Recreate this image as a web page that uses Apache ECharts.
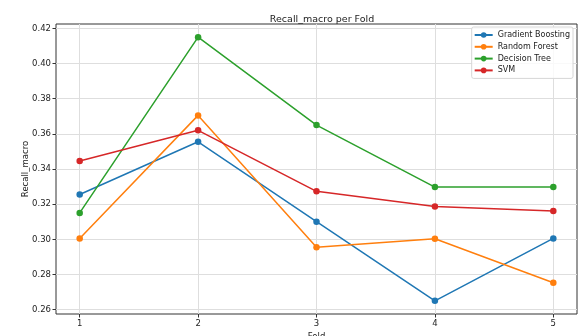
<!DOCTYPE html>
<html>
<head>
<meta charset="utf-8">
<script src="https://cdn.jsdelivr.net/npm/echarts@6/dist/echarts.min.js"></script>
<style>
  html, body { margin: 0; padding: 0; background: #fff; }
  #chart { width: 580px; height: 336px; }
</style>
</head>
<body>
<div id="chart"></div>
<script>
// Folds on the x axis
const folds = [1, 2, 3, 4, 5];
const yTicks = [0.26, 0.28, 0.30, 0.32, 0.34, 0.36, 0.38, 0.40, 0.42];

// Recall_macro per model
const gradientBoosting = [0.3255, 0.3555, 0.310, 0.265, 0.3005];
const randomForest = [0.3005, 0.3705, 0.2955, 0.3003, 0.2753];
const decisionTree = [0.315, 0.415, 0.365, 0.3297, 0.3297];
const svm = [0.3445, 0.362, 0.3273, 0.3186, 0.3161];

const models = [
  { name: 'Gradient Boosting', values: gradientBoosting, color: '#1f77b4' },
  { name: 'Random Forest', values: randomForest, color: '#ff7f0e' },
  { name: 'Decision Tree', values: decisionTree, color: '#2ca02c' },
  { name: 'SVM', values: svm, color: '#d62728' }
];

const chart = echarts.init(document.getElementById('chart'), null, { renderer: 'canvas' });
const font = 'DejaVu Sans';

const option = {
  animation: false,
  backgroundColor: '#fff',
  title: {
    text: 'Recall_macro per Fold',
    left: 317,
    top: 10,
    textAlign: 'center',
    textStyle: { fontFamily: font, fontSize: 9.5, fontWeight: 'normal', color: '#222' }
  },
  legend: {
    orient: 'vertical',
    right: 7,
    top: 27,
    padding: [4, 3, 4, 2],
    itemWidth: 18,
    itemHeight: 7,
    itemGap: 3.8,
    backgroundColor: 'rgba(255,255,255,0.8)',
    borderColor: '#d6d6d6',
    borderWidth: 1,
    borderRadius: 2,
    textStyle: { fontFamily: font, fontSize: 8, lineHeight: 8, color: '#222' },
    data: models.map(m => m.name)
  },
  grid: {
    left: 56,
    right: 3,
    top: 24,
    bottom: 22,
    outerBoundsMode: 'none',
    containLabel: false,
    show: true,
    borderColor: '#333',
    borderWidth: 1
  },
  xAxis: {
    type: 'value',
    min: 0.8,
    max: 5.2,
    minInterval: 1,
    maxInterval: 1,
    name: 'Fold',
    nameLocation: 'middle',
    nameGap: 18,
    nameMoveOverlap: false,
    nameTextStyle: { fontFamily: font, fontSize: 8.5, color: '#222' },
    axisLine: { show: false },
    axisTick: { show: true, length: 3.5, customValues: folds, lineStyle: { color: '#333' } },
    axisLabel: {
      customValues: folds,
      fontFamily: font, fontSize: 8.5, color: '#222', margin: 5,
      formatter: v => String(v)
    },
    splitLine: { show: true, lineStyle: { color: '#dedede', width: 1 } }
  },
  yAxis: {
    type: 'value',
    min: 0.2575,
    max: 0.4225,
    minInterval: 0.02,
    maxInterval: 0.02,
    name: 'Recall_macro',
    nameLocation: 'middle',
    nameGap: 26,
    nameMoveOverlap: false,
    nameTextStyle: { fontFamily: font, fontSize: 8.5, color: '#222' },
    axisLine: { show: false },
    axisTick: { show: true, length: 3.5, customValues: yTicks, lineStyle: { color: '#333' } },
    axisLabel: {
      customValues: yTicks,
      fontFamily: font, fontSize: 8.5, color: '#222', margin: 5,
      formatter: v => v.toFixed(2)
    },
    splitLine: { show: true, lineStyle: { color: '#dedede', width: 1 } }
  },
  series: models.map(m => ({
    name: m.name,
    type: 'line',
    data: folds.map((f, i) => [f, m.values[i]]),
    symbol: 'circle',
    symbolSize: 6.5,
    showAllSymbol: true,
    lineStyle: { width: 1.5, color: m.color },
    itemStyle: { color: m.color },
    emphasis: { disabled: true }
  }))
};

chart.setOption(option);
</script>
</body>
</html>
